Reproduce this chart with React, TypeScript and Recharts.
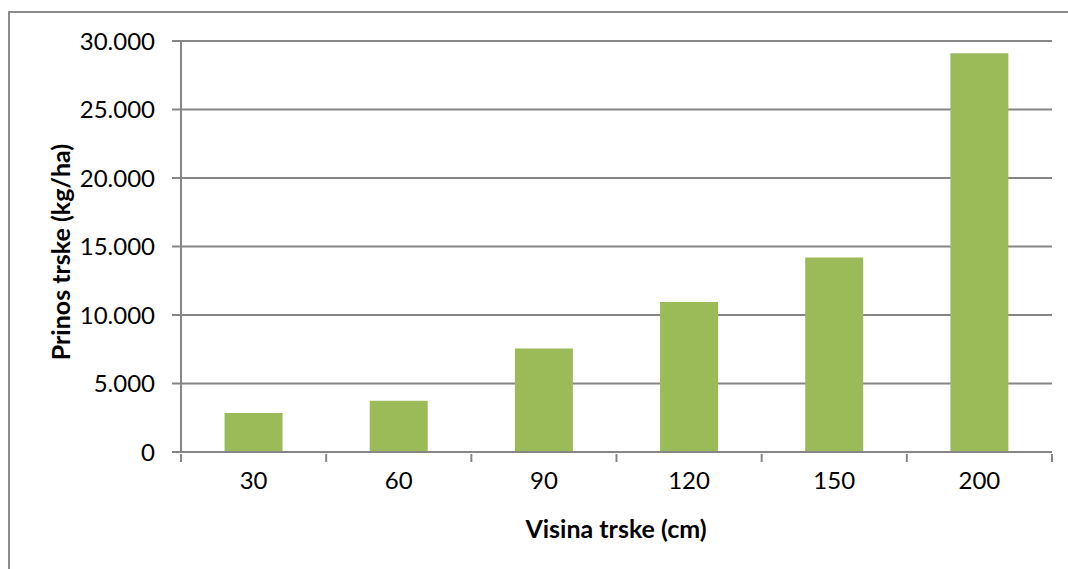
import { BarChart, Bar, XAxis, YAxis, CartesianGrid } from 'recharts';

const heights = ['30', '60', '90', '120', '150', '200'];
const yields = [2850, 3750, 7550, 10950, 14200, 29100];
const yTicks = [0, 5000, 10000, 15000, 20000, 25000, 30000];

const data = heights.map((h, i) => ({ height: h, yield: yields[i] }));

const axisColor = '#868686';
const font = 'Lato, "Liberation Sans", sans-serif';

const fmt = (v: number) => (v === 0 ? '0' : v.toLocaleString('de-DE'));

function EdgeTick(props: any) {
  const { x, y, payload, index } = props;
  const half = payload && payload.offset ? payload.offset : 72.6;
  return (
    <g>
      <line x1={x - half} y1={y - 8} x2={x - half} y2={y} stroke={axisColor} strokeWidth={2} />
      {index === heights.length - 1 && (
        <line x1={x + half} y1={y - 8} x2={x + half} y2={y} stroke={axisColor} strokeWidth={2} />
      )}
      <text x={x} y={y + 10} dy="0.71em" textAnchor="middle" fill="#000" fontSize={24} fontFamily={font}>
        {payload.value}
      </text>
    </g>
  );
}

export default function App() {
  return (
    <div style={{ position: 'absolute', left: 0, top: 0, width: 1068, height: 569, overflow: 'hidden', background: '#fff' }}>
      <div style={{ position: 'absolute', left: 8, top: 11, width: 1100, height: 600, border: '2px solid #8c8c8c' }} />
      <div style={{ position: 'absolute', left: 0, top: 0 }}>
        <BarChart width={1068} height={569} data={data} margin={{ top: 41, right: 16, bottom: 57, left: 101 }} barCategoryGap="30%">
          <CartesianGrid vertical={false} stroke={axisColor} strokeWidth={2} />
          <XAxis
            dataKey="height"
            height={60}
            stroke={axisColor}
            strokeWidth={2}
            tickLine={false}
            tickSize={8}
            tick={<EdgeTick />}
            interval={0}
          />
          <YAxis
            width={80}
            domain={[0, 30000]}
            ticks={yTicks}
            tickFormatter={fmt}
            stroke={axisColor}
            strokeWidth={2}
            tickSize={9}
            tickMargin={17}
            tick={{ fill: '#000', fontSize: 24, fontFamily: font }}
          />
          <Bar dataKey="yield" fill="#9BBB59" isAnimationActive={false} />
        </BarChart>
      </div>
      <div
        style={{
          position: 'absolute',
          left: 60,
          top: 252,
          transform: 'translate(-50%, -50%) rotate(-90deg)',
          whiteSpace: 'nowrap',
          fontFamily: font,
          fontWeight: 'bold',
          fontSize: 25,
        }}
      >
        Prinos trske (kg/ha)
      </div>
      <div
        style={{
          position: 'absolute',
          left: 616,
          top: 528,
          transform: 'translate(-50%, -50%)',
          whiteSpace: 'nowrap',
          fontFamily: font,
          fontWeight: 'bold',
          fontSize: 25,
        }}
      >
        Visina trske (cm)
      </div>
    </div>
  );
}
